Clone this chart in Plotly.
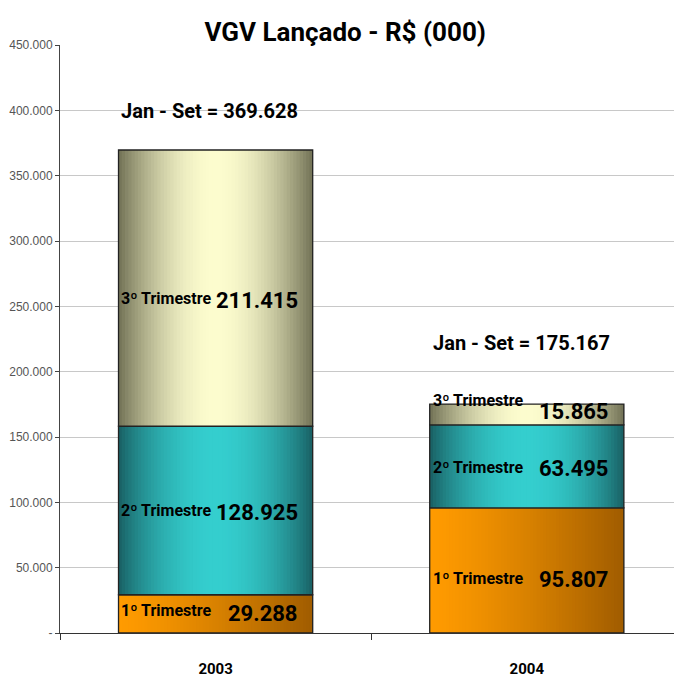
import math
import plotly.graph_objects as go

anos = ["2003", "2004"]
trimestres = ["1º Trimestre", "2º Trimestre", "3º Trimestre"]
tri_1 = [29288, 95807]
tri_2 = [128925, 63495]
tri_3 = [211415, 15865]
y_ticks = [0, 50000, 100000, 150000, 200000, 250000, 300000, 350000, 400000, 450000]

series = [tri_1, tri_2, tri_3]
totais = [sum(v) for v in zip(*series)]

BOLD = "Roboto, Liberation Sans, sans-serif"


def fmt(v):
    return f"{v:,.0f}".replace(",", ".")


def mix(c1, c2, f):
    return "rgb(%d,%d,%d)" % tuple(round(a + (b - a) * f) for a, b in zip(c1, c2))


# gradient colours, one function per quarter (t = 0 left edge .. 1 right edge)
def cor_laranja(t):
    return mix((255, 155, 0), (160, 92, 0), t ** 1.3)


def cor_teal(t):
    return mix((24, 92, 96), (52, 206, 206), math.sin(math.pi * t) ** 0.8)


def cor_oliva(t):
    return mix((112, 112, 84), (252, 252, 206), math.sin(math.pi * t) ** 0.9)


cores = [cor_laranja, cor_teal, cor_oliva]

W = 0.624
N = 60
step = W / N

fig = go.Figure()
base = [0, 0]
bases = []
for s, vals in enumerate(series):
    bases.append(list(base))
    for i in range(N):
        off = -W / 2 + i * step
        fig.add_trace(go.Bar(
            x=anos, y=vals, base=base, width=min(step * 2, W / 2 - off),
            offset=off, marker=dict(color=cores[s]((i + 0.5) / N), line_width=0),
            hoverinfo="skip", showlegend=False,
        ))
    # outline of the segment
    fig.add_trace(go.Bar(
        x=anos, y=vals, base=base, width=W, offset=-W / 2,
        marker=dict(color="rgba(0,0,0,0)", line=dict(color="#222", width=1.3)),
        name=trimestres[s], showlegend=False,
    ))
    base = [b + v for b, v in zip(base, vals)]

# pixel nudges for the labels inside the bars: (quarter, year) -> (label, value)
nudge = {
    (0, 0): (3, 0), (1, 0): (0, -2), (2, 0): (-10, -12),
    (0, 1): (-8, -9), (1, 1): (-1, -2), (2, 1): (14, 3),
}

ann = []
for s, vals in enumerate(series):
    for j in range(len(anos)):
        yc = bases[s][j] + vals[j] / 2
        dl, dv = nudge[(s, j)]
        ann.append(dict(x=j - W / 2 + 0.003, y=yc, xanchor="left", yanchor="middle",
                        text=trimestres[s], showarrow=False, yshift=dl,
                        font=dict(family=BOLD, size=16, color="black", weight="bold")))
        ann.append(dict(x=j + W / 2 - 0.04, y=yc, xanchor="right", yanchor="middle",
                        text=fmt(vals[j]), showarrow=False, yshift=dv,
                        font=dict(family=BOLD, size=22, color="black", weight="bold")))

for j, tot in enumerate(totais):
    ann.append(dict(x=j - W / 2 + 0.003, y=tot, xanchor="left", yanchor="middle",
                    text="Jan - Set = " + fmt(tot), showarrow=False,
                    yshift=[39, 61][j],
                    font=dict(family=BOLD, size=20, color="black", weight="bold")))

ann.append(dict(xref="paper", yref="paper", x=0.464, y=1.022, xanchor="center",
                yanchor="middle", text=" VGV Lançado - R$ (000) ", showarrow=False,
                bgcolor="white",
                font=dict(family=BOLD, size=26, color="black", weight="bold")))

fig.update_layout(
    width=674, height=677,
    margin=dict(l=60, r=0, t=45, b=44),
    paper_bgcolor="white", plot_bgcolor="white",
    barmode="overlay",
    annotations=ann,
    xaxis=dict(
        range=[-0.5, 1.473], showline=True, linecolor="#333", linewidth=1,
        ticks="outside", tickson="boundaries", ticklen=6, tickcolor="#333",
        showgrid=False, ticklabelstandoff=22, automargin=False,
        tickfont=dict(family=BOLD, size=15, color="black", weight="bold"),
    ),
    yaxis=dict(
        range=[0, 450000], tickvals=y_ticks,
        ticktext=["-" if v == 0 else fmt(v) for v in y_ticks],
        showline=True, linecolor="#444", linewidth=1, ticks="outside", ticklen=4,
        tickcolor="#444", gridcolor="#c8c8c8", zeroline=False, automargin=False,
        tickfont=dict(family="Liberation Sans, Arial, sans-serif", size=12, color="#555"),
    ),
)

fig.write_html("out.html", config={"displayModeBar": False},
               post_script="document.body.style.margin='0px';")
